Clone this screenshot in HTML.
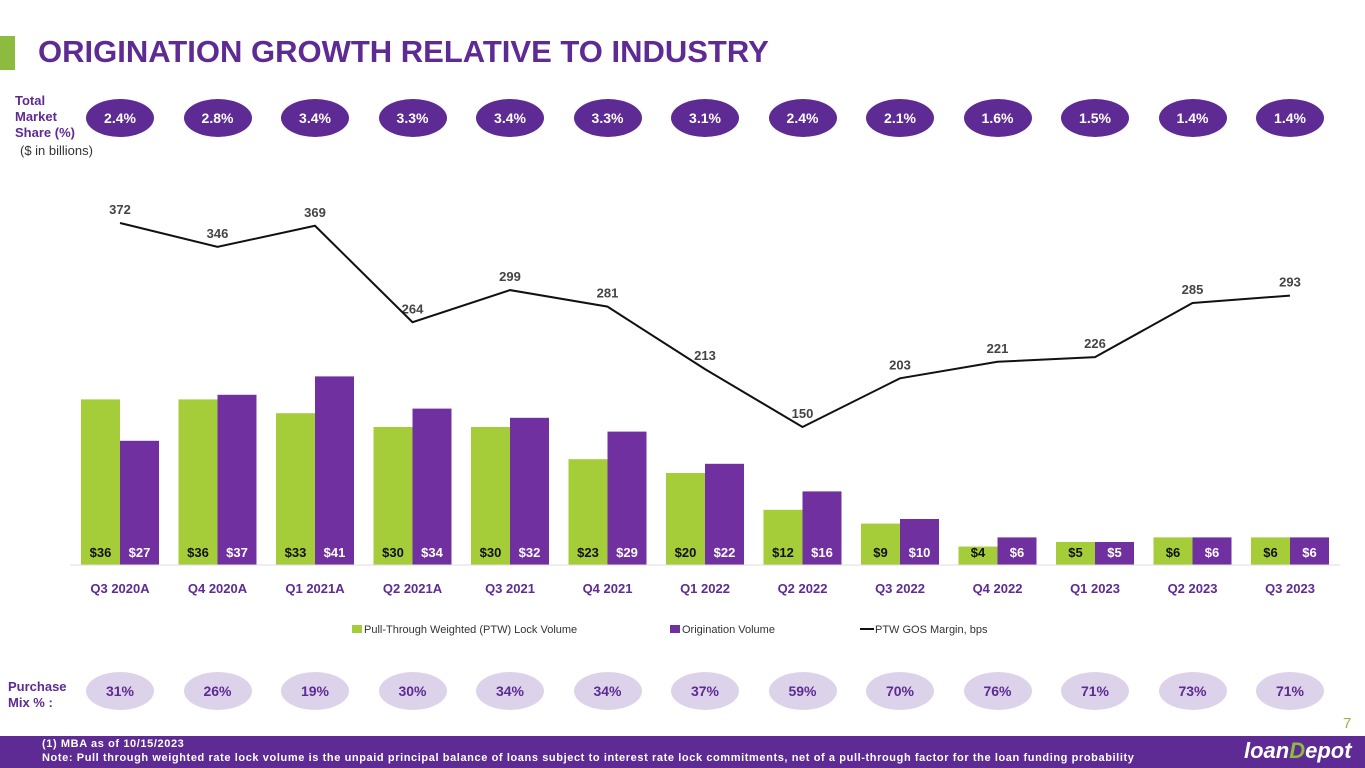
<!DOCTYPE html>
<html><head><meta charset="utf-8">
<style>
body{margin:0;width:1365px;height:768px;overflow:hidden;background:#fff;font-family:"Liberation Sans",sans-serif;position:relative}
.abs{position:absolute}
.oval{position:absolute;width:68px;height:38px;border-radius:50%;display:flex;align-items:center;justify-content:center;font-weight:bold;font-size:14px}
.ms{background:#5e2a93;color:#fff}
.pm{background:#dcd3ea;color:#5e2a93}
</style></head><body>
<div class="abs" style="left:0;top:36px;width:15px;height:34px;background:#8dbb3f"></div>
<div class="abs" style="left:38px;top:34px;font-size:31px;font-weight:bold;color:#5e2a93;letter-spacing:0px">ORIGINATION GROWTH RELATIVE TO INDUSTRY</div>
<div class="abs" style="left:15px;top:93px;font-size:13px;font-weight:bold;color:#5e2a93;line-height:16px">Total<br>Market<br>Share (%)</div>
<div class="abs" style="left:20px;top:143px;font-size:13px;color:#333">($ in billions)</div>
<div class="abs" style="left:8px;top:679px;font-size:13px;font-weight:bold;color:#5e2a93;line-height:16px">Purchase<br>Mix % :</div>
<div id="ovals"></div>
<svg class="abs" style="left:0;top:0" width="1365" height="768" id="chart"></svg>
<div class="abs" style="left:1343px;top:715px;font-size:15px;color:#8dbb3f">7</div>
<div class="abs" style="left:0;top:736px;width:1365px;height:32px;background:#5e2a93"></div>
<div class="abs" style="left:42px;top:737px;font-size:11px;font-weight:bold;color:#fff;line-height:14px;letter-spacing:0.6px">(1) MBA as of 10/15/2023<br>Note: Pull through weighted rate lock volume is the unpaid principal balance of loans subject to interest rate lock commitments, net of a pull-through factor for the loan funding probability</div>
<div class="abs" style="left:1244px;top:738px;font-size:22px;font-weight:bold;font-style:italic;color:#fff">loan<span style="color:#8dbb3f">D</span>epot</div>
<script>
const categories=["Q3 2020A","Q4 2020A","Q1 2021A","Q2 2021A","Q3 2021","Q4 2021","Q1 2022","Q2 2022","Q3 2022","Q4 2022","Q1 2023","Q2 2023","Q3 2023"];
const lockVolume=[36,36,33,30,30,23,20,12,9,4,5,6,6];
const originationVolume=[27,37,41,34,32,29,22,16,10,6,5,6,6];
const gosMargin=[372,346,369,264,299,281,213,150,203,221,226,285,293];
const marketShare=["2.4%","2.8%","3.4%","3.3%","3.4%","3.3%","3.1%","2.4%","2.1%","1.6%","1.5%","1.4%","1.4%"];
const purchaseMix=["31%","26%","19%","30%","34%","34%","37%","59%","70%","76%","71%","73%","71%"];
const NS="http://www.w3.org/2000/svg";
const svg=document.getElementById('chart');
const xC=i=>120+i*97.5;
const base=565;
const yBar=v=>base-v*4.6;
const yLine=v=>223+(372-v)*0.919;
function mk(t,a){const e=document.createElementNS(NS,t);for(const k in a)e.setAttribute(k,a[k]);svg.appendChild(e);return e;}
const ov=document.getElementById('ovals');
categories.forEach((c,i)=>{
  const cx=xC(i);
  const g=mk('rect',{x:cx-39,y:yBar(lockVolume[i]),width:39,height:lockVolume[i]*4.6,fill:'#a4cd39'});
  
  
  const p=mk('rect',{x:cx,y:yBar(originationVolume[i]),width:39,height:originationVolume[i]*4.6,fill:'#7030a0'});
  
  
  const t1=mk('text',{x:cx-19.5,y:base-8,'text-anchor':'middle','font-size':13,'font-weight':'bold',fill:'#111'});t1.textContent='$'+lockVolume[i];
  
  
  const t2=mk('text',{x:cx+19.5,y:base-8,'text-anchor':'middle','font-size':13,'font-weight':'bold',fill:'#fff'});t2.textContent='$'+originationVolume[i];
  
  
  const cl=mk('text',{x:cx,y:593,'text-anchor':'middle','font-size':13,'font-weight':'bold',fill:'#5e2a93'});cl.textContent=c;
  
  
  const ml=mk('text',{x:cx,y:yLine(gosMargin[i])-9,'text-anchor':'middle','font-size':13,'font-weight':'bold',fill:'#444'});ml.textContent=gosMargin[i];
  
  
  const m=document.createElement('div');m.className='oval ms';m.style.left=(cx-34)+'px';m.style.top='99px';m.textContent=marketShare[i];
  
  
  ov.appendChild(m);
  const q=document.createElement('div');q.className='oval pm';q.style.left=(cx-34)+'px';q.style.top='672px';q.textContent=purchaseMix[i];
  
  
  ov.appendChild(q);
});
const ax=mk('line',{x1:70,y1:base,x2:1340,y2:base,stroke:'#ddd','stroke-width':1});


const ln=mk('polyline',{points:gosMargin.map((v,i)=>xC(i)+','+yLine(v)).join(' '),fill:'none',stroke:'#111','stroke-width':2});


const lg=[[352,'rect','#a4cd39','Pull-Through Weighted (PTW) Lock Volume'],[670,'rect','#7030a0','Origination Volume'],[860,'line','#111','PTW GOS Margin, bps']];
lg.forEach(l=>{
  let s;
  if(l[1]==='rect')s=mk('rect',{x:l[0],y:625,width:10,height:8,fill:l[2]});
  else s=mk('line',{x1:l[0],y1:629,x2:l[0]+14,y2:629,stroke:l[2],'stroke-width':2});
  
  
  const t=mk('text',{x:l[0]+(l[1]==='rect'?12:15),y:633,'font-size':11,fill:'#333'});t.textContent=l[3];
  
  
});
</script>
</body></html>
